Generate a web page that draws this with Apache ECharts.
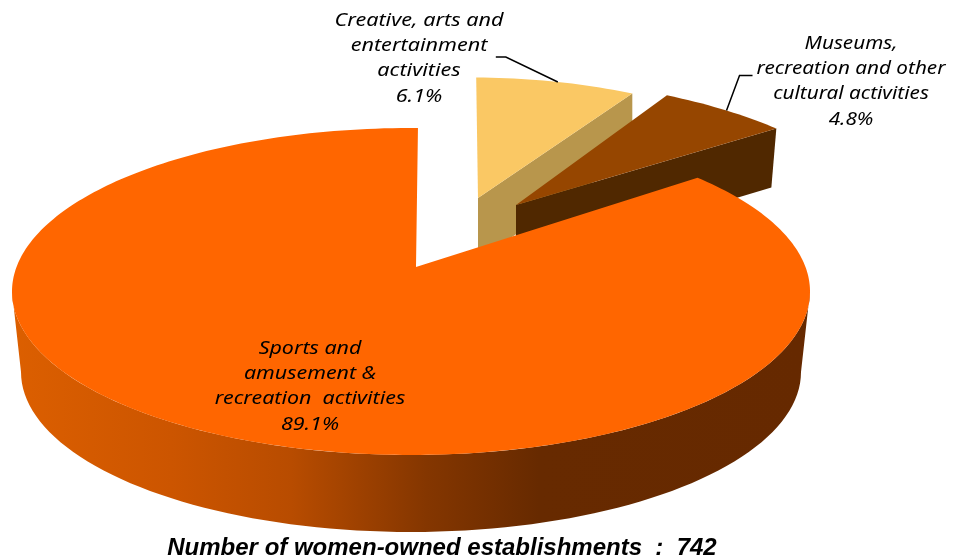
<!DOCTYPE html>
<html>
<head>
<meta charset="utf-8">
<style>html,body{margin:0;padding:0;background:#fff}#c{width:963px;height:558px}</style>
<script src="https://cdn.jsdelivr.net/npm/echarts@6/dist/echarts.min.js"></script>
</head>
<body>
<div id="c"></div>
<script>
const categories = ['Creative, arts and\nentertainment\nactivities', 'Museums,\nrecreation and other\ncultural activities', 'Sports and\namusement &\nrecreation  activities'];
const shares = [6.1, 4.8, 89.1];
const caption = 'Number of women-owned establishments  :  742';

const topColors = ['#FAC864', '#964600', '#FF6600'];
const wallColors = ['#B8964C', '#502800', null];
const RX = 399, RY = 163.5, TILT = 1.22, ROT = 1;
// exploded-pie placement: ellipse centre, scale, apex offset, wall depth, wall narrowing
const layout = [
  { cx: 470, cy: 223, s: 0.89, ax: 8, ay: -25, depth: 62, inset: 0 },
  { cx: 475.5, cy: 248, s: 1.05, ax: 40.5, ay: -43, depth: 59, inset: 5 },
  { cx: 411, cy: 291.5, s: 1, ax: 5, ay: -24.5, depth: 80, inset: 9 }
];
const labelPos = [[419, 58.5], [851, 81.5], [310, 386.5]];
const labelStretch = [1.2, 1.15, 1.19];
const leaders = [[[-52, -25], [-62, -25]], [[13, -35], [26, -35]], null];

const rad = d => d * Math.PI / 180;
const warp = th => {
  let t = Math.atan2(TILT * Math.sin(rad(th)), Math.cos(rad(th))) * 180 / Math.PI;
  if (t < 0) t += 360;
  return t + ROT;
};
const rim = (L, t, rx, ry, cy) => [L.cx + (rx || RX * L.s) * Math.sin(rad(t)), (cy || L.cy) - (ry || RY * L.s) * Math.cos(rad(t))];

function renderItem(params, api) {
  const i = params.dataIndex;
  const L = layout[i];
  let start = 0;
  for (let k = 0; k < i; k++) start += shares[k] * 3.6;
  const sweep = api.value(0) * 3.6;
  const apex = [L.cx + L.ax, L.cy + L.ay];
  const rimPts = [];
  const N = Math.max(8, Math.ceil(sweep));
  for (let k = 0; k <= N; k++) rimPts.push(rim(L, warp(start + sweep * k / N)));
  const children = [];

  if (i === 2) {
    const front = [];
    const back = [];
    for (let t = 90; t <= 270; t += 2) {
      front.push(rim(L, t));
      back.push(rim(L, t, RX - L.inset, 160, L.cy + L.depth + 0.5));
    }
    children.push({
      type: 'polygon',
      shape: { points: front.concat(back.reverse()) },
      style: {
        fill: new echarts.graphic.LinearGradient(0, 0, 1, 0, [
          { offset: 0, color: '#DC5F00' },
          { offset: 0.2, color: '#CC5500' },
          { offset: 0.35, color: '#B84C00' },
          { offset: 0.52, color: '#843600' },
          { offset: 0.66, color: '#672A00' },
          { offset: 1, color: '#662900' }
        ])
      }
    });
  } else {
    const e = rimPts[N];
    children.push({
      type: 'polygon',
      shape: { points: [apex, e, [e[0] - L.inset, e[1] + L.depth], [apex[0], apex[1] + L.depth]] },
      style: { fill: wallColors[i] }
    });
  }
  children.push({
    type: 'polygon',
    shape: { points: [apex].concat(rimPts) },
    style: { fill: topColors[i] }
  });
  if (leaders[i]) {
    const m = rim(L, warp(start + sweep / 2));
    children.push({
      type: 'polyline',
      shape: { points: [m].concat(leaders[i].map(o => [m[0] + o[0], m[1] + o[1]])) },
      style: { fill: null, stroke: '#000', lineWidth: 1.5 }
    });
  }
  children.push({
    type: 'text',
    z2: 50,
    x: labelPos[i][0], y: labelPos[i][1],
    scaleX: labelStretch[i],
    style: {
      x: 0, y: 0,
      text: categories[i] + '\n' + api.value(0).toFixed(1) + '%',
      fill: '#000', align: 'center', verticalAlign: 'middle',
      fontFamily: 'Noto Sans', fontStyle: 'italic', fontSize: 18, lineHeight: 25.3
    }
  });
  return { type: 'group', children };
}

const chart = echarts.init(document.getElementById('c'), null, { renderer: 'canvas' });
chart.setOption({
  animation: false,
  backgroundColor: '#fff',
  title: {
    text: caption, left: 437, top: 531, textAlign: 'center',
    textStyle: { fontFamily: 'Liberation Sans', fontSize: 24, fontWeight: 'bold', fontStyle: 'italic', color: '#000' }
  },
  series: [{
    type: 'custom',
    coordinateSystem: 'none',
    renderItem,
    data: shares.map((v, i) => ({ name: categories[i], value: [v] }))
  }]
});
</script>
</body>
</html>
